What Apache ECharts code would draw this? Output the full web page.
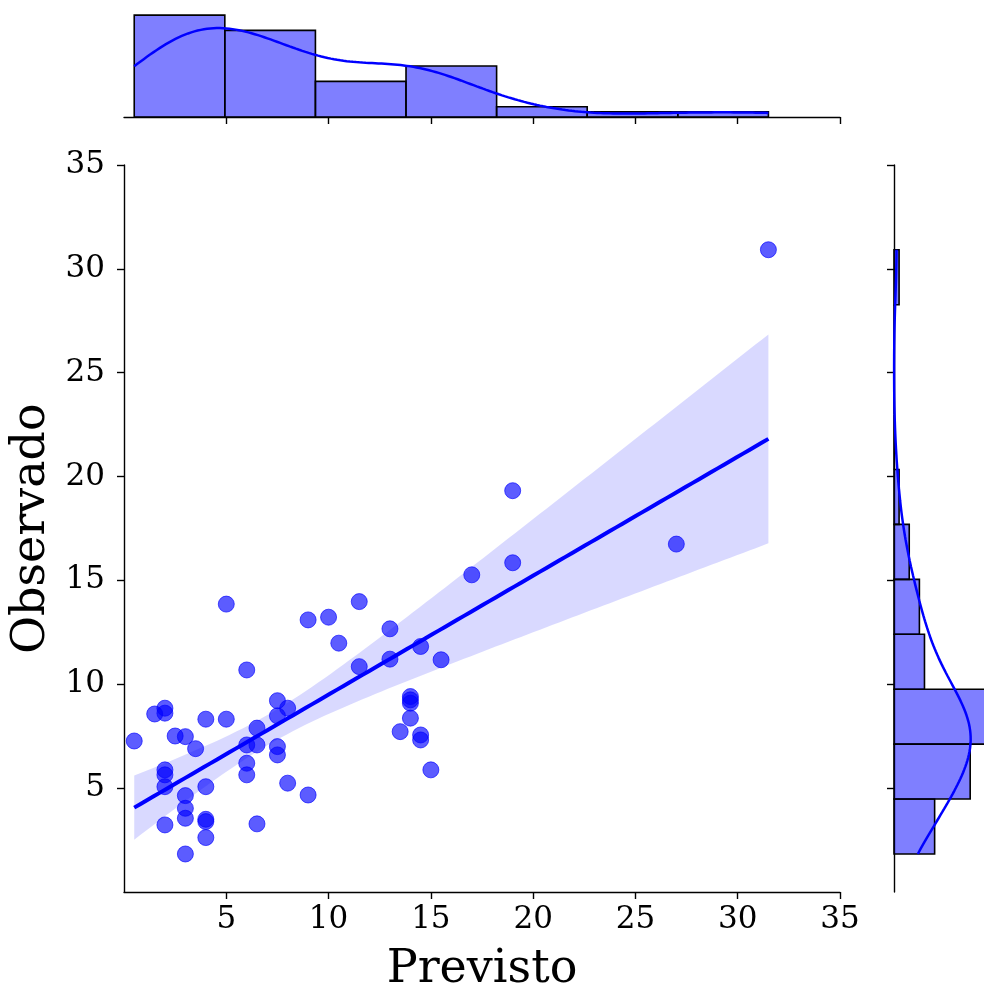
<!DOCTYPE html>
<html>
<head>
<meta charset="utf-8">
<script src="https://cdn.jsdelivr.net/npm/echarts@6/dist/echarts.min.js"></script>
<style>html,body{margin:0;padding:0;background:#fff}#c{width:984px;height:987px}</style>
</head>
<body>
<div id="c"></div>
<script>
// ---- data ----
const previsto = [0.5,1.5,2,2,2,2,2,2,2.5,3,3,3,3,3,3.5,4,4,4,4,4,5,5,6,6,6,6,6.5,6.5,6.5,7.5,7.5,7.5,7.5,8,8,9,9,10,10.5,11.5,11.5,13,13,13.5,14,14,14,14,14.5,14.5,14.5,15,15.5,17,19,19,27,31.5];
const observado = [7.27,8.57,8.85,8.61,5.88,5.64,5.07,3.23,7.51,7.48,4.64,4.03,3.55,1.83,6.90,8.32,5.07,3.50,3.39,2.62,8.32,13.86,10.69,7.08,6.20,5.64,7.08,7.89,3.28,9.21,8.48,7.00,6.60,8.85,5.24,4.67,13.10,13.23,11.98,10.85,13.98,12.67,11.21,7.72,9.41,9.25,9.09,8.37,11.82,7.56,7.32,5.88,11.18,15.27,15.85,19.32,16.75,30.92];
const tickValues = [5,10,15,20,25,30,35];
const xBinCount = 7;
const yBinCount = 11;
const xTitle = 'Previsto';
const yTitle = 'Observado';

// ---- helpers ----
const n = previsto.length;
const mean = a => a.reduce((s,v)=>s+v,0)/a.length;
const std = a => { const m = mean(a); return Math.sqrt(a.reduce((s,v)=>s+(v-m)*(v-m),0)/(a.length-1)); };
function hist(a, k){
  const lo = Math.min(...a), hi = Math.max(...a), w = (hi-lo)/k;
  const c = new Array(k).fill(0);
  a.forEach(v => { let i = Math.floor((v-lo)/w); if (i>=k) i=k-1; c[i]++; });
  return {bins: c.map((cnt,i)=>[lo+i*w, lo+(i+1)*w, cnt]), w, lo, hi};
}
function kde(a, w, lo, hi){
  const bw = std(a)*Math.pow(a.length, -1/5);
  const out = [];
  for (let i=0;i<=200;i++){
    const x = lo + (hi-lo)*i/200;
    let d = 0;
    a.forEach(v => { const z=(x-v)/bw; d += Math.exp(-0.5*z*z); });
    d = d/(a.length*bw*Math.sqrt(2*Math.PI));
    out.push([x, d*a.length*w]);
  }
  return out;
}
const hx = hist(previsto, xBinCount);
const hy = hist(observado, yBinCount);
const kx = kde(previsto, hx.w, hx.lo, hx.hi);
const ky = kde(observado, hy.w, hy.lo, hy.hi).map(p=>[p[1], p[0]]);

// least-squares fit with a heteroskedasticity-robust (HC0) 95% band
const mx = mean(previsto), my = mean(observado);
let sxx=0, sxy=0;
for (let i=0;i<n;i++){ sxx += (previsto[i]-mx)**2; sxy += (previsto[i]-mx)*(observado[i]-my); }
const b = sxy/sxx, a0 = my - b*mx;
let m00=0, m01=0, m11=0;
for (let i=0;i<n;i++){
  const dx = previsto[i]-mx;
  const e = observado[i]-a0-b*previsto[i];
  const w = e*e;
  m00 += w; m01 += w*dx; m11 += w*dx*dx;
}
const v00 = m00/(n*n), v01 = m01/(n*sxx), v11 = m11/(sxx*sxx);
const xmin = Math.min(...previsto), xmax = Math.max(...previsto);
const fit = [], upper = [], lower = [];
for (let i=0;i<=100;i++){
  const x = xmin + (xmax-xmin)*i/100;
  const y = a0 + b*x;
  const d = x-mx;
  const se = Math.sqrt(v00 + 2*d*v01 + d*d*v11);
  fit.push([x,y]); upper.push([x,y+1.96*se]); lower.push([x,y-1.96*se]);
}

const FONT = 'DejaVu Serif';
const axisLine = {show:true, lineStyle:{color:'#000', width:1.4}};
const tick = (show) => ({show, customValues: tickValues, length:7, lineStyle:{color:'#000', width:1.4}});

const chart = echarts.init(document.getElementById('c'), null, {renderer:'canvas'});
const histItem = (horizontal) => function(params, api){
  const x0 = api.value(0), x1 = api.value(1), c = api.value(2);
  let p0, p1;
  if (!horizontal){ p0 = api.coord([x0, c]); p1 = api.coord([x1, 0]); }
  else { p0 = api.coord([0, x1]); p1 = api.coord([c, x0]); }
  return {type:'rect', shape:{x:Math.min(p0[0],p1[0]), y:Math.min(p0[1],p1[1]), width:Math.abs(p1[0]-p0[0]), height:Math.abs(p1[1]-p0[1])},
    style:{fill:'rgba(0,0,255,0.5)', stroke:'#000', lineWidth:1.6}};
};

chart.setOption({
  animation:false,
  backgroundColor:'#fff',
  grid:[
    {left:124, top:165, width:716, height:727, outerBoundsMode:'none', containLabel:false},
    {left:124, top:10, width:716, height:107, outerBoundsMode:'none', containLabel:false},
    {left:894, top:165, width:96, height:727, outerBoundsMode:'none', containLabel:false}
  ],
  xAxis:[
    {gridIndex:0, type:'value', min:0, max:35, interval:5, splitLine:{show:false},
     axisLine, axisTick: tick(true),
     axisLabel:{customValues: tickValues, fontFamily:FONT, fontSize:31, color:'#000', margin:12},
     name:xTitle, nameLocation:'middle', nameGap:55, nameTextStyle:{fontFamily:FONT, fontSize:46, color:'#000'}},
    {gridIndex:1, type:'value', min:0, max:35, interval:5, splitLine:{show:false},
     axisLine, axisTick: tick(true), axisLabel:{show:false}},
    {gridIndex:2, type:'value', min:0, max:18.9, show:false}
  ],
  yAxis:[
    {gridIndex:0, type:'value', min:0, max:35, interval:5, splitLine:{show:false},
     axisLine, axisTick: tick(true),
     axisLabel:{customValues: tickValues, fontFamily:FONT, fontSize:31, color:'#000', margin:19},
     name:yTitle, nameLocation:'middle', nameGap:60, nameTextStyle:{fontFamily:FONT, fontSize:46, color:'#000'}},
    {gridIndex:1, type:'value', min:0, max:21, show:false},
    {gridIndex:2, type:'value', min:0, max:35, interval:5, splitLine:{show:false},
     axisLine, axisTick: tick(true), axisLabel:{show:false}}
  ],
  series:[
    {type:'custom', xAxisIndex:0, yAxisIndex:0, z:3, data:[[0,0]],
     renderItem:function(params, api){
       const pts = upper.map(p=>api.coord(p)).concat(lower.slice().reverse().map(p=>api.coord(p)));
       return {type:'polygon', shape:{points:pts}, style:{fill:'rgba(0,0,255,0.15)'}};
     }},
    {type:'scatter', xAxisIndex:0, yAxisIndex:0, z:2, symbolSize:16,
     data: previsto.map((x,i)=>[x, observado[i]]),
     itemStyle:{color:'rgba(0,0,255,0.8)', borderColor:'rgba(0,0,255,0.8)', borderWidth:1}},
    {type:'line', xAxisIndex:0, yAxisIndex:0, z:4, data:fit, showSymbol:false, symbol:'none',
     lineStyle:{color:'#0000ff', width:4}},
    {type:'custom', xAxisIndex:1, yAxisIndex:1, data:hx.bins, renderItem:histItem(false), z:2},
    {type:'line', xAxisIndex:1, yAxisIndex:1, data:kx, symbol:'none', z:3, lineStyle:{color:'#0000ff', width:2.5}},
    {type:'custom', xAxisIndex:2, yAxisIndex:2, data:hy.bins, renderItem:histItem(true), z:2},
    {type:'line', xAxisIndex:2, yAxisIndex:2, data:ky, symbol:'none', z:3, lineStyle:{color:'#0000ff', width:2.5}}
  ]
});
</script>
</body>
</html>
